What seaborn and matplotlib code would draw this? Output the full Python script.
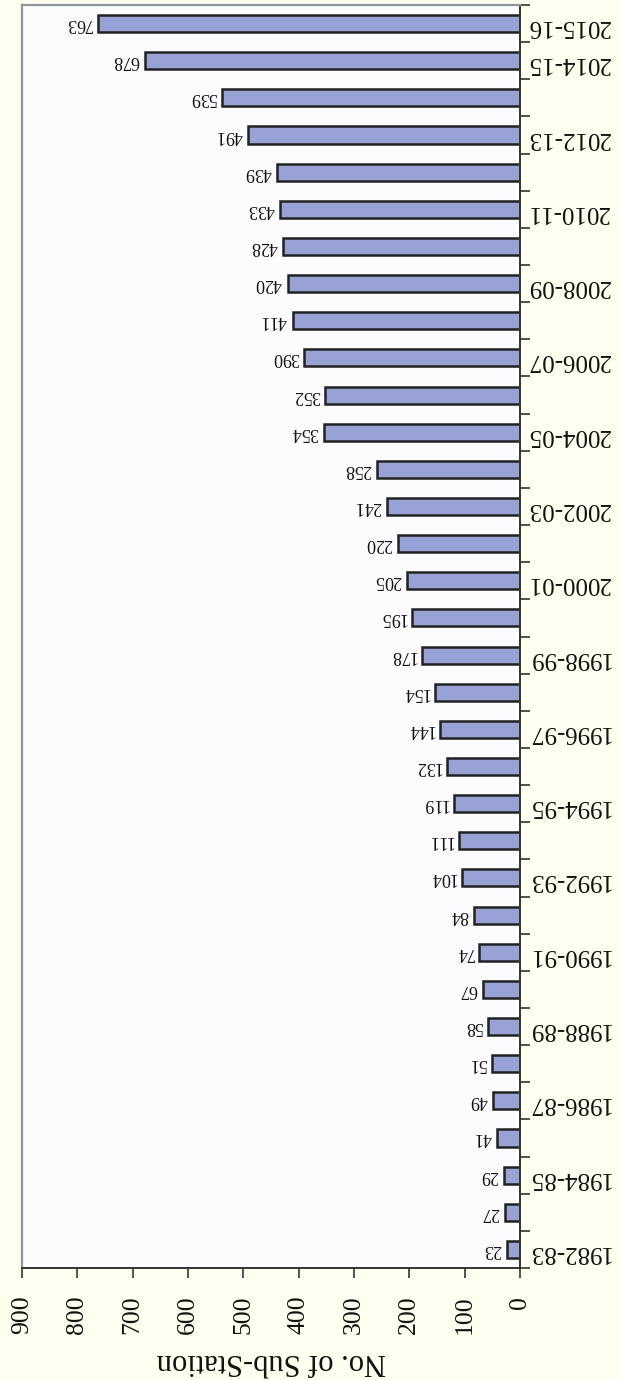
import numpy as np
import matplotlib
matplotlib.use("Agg")
import matplotlib.pyplot as plt
import seaborn as sns
import pandas as pd
from matplotlib.ticker import FixedLocator

sns.set_style("white")
plt.rcParams['font.family'] = ['Liberation Serif', 'DejaVu Serif']

# data
years = [f"{y}-{str(y + 1)[-2:]}" for y in range(1982, 2016)]
stations = [23, 27, 29, 41, 49, 51, 58, 67, 74, 84, 104, 111, 119, 132, 144, 154,
            178, 195, 205, 220, 241, 258, 354, 352, 390, 411, 420, 428, 433, 439,
            491, 539, 678, 763]
shown_labels = years[0::2] + [years[-1]]

df = pd.DataFrame({"year": years, "stations": stations})

fig = plt.figure(figsize=(6.21, 13.80), dpi=100, facecolor='#FFFFF0')
ax = fig.add_axes([22 / 621, 1 - 1268 / 1380, (520 - 22) / 621, (1268 - 5) / 1380])
ax.set_facecolor('#FCFCFF')

order = years[::-1]  # newest at top
sns.barplot(data=df, y="year", x="stations", order=order, orient="h",
            color='#98A2D4', saturation=1, width=0.46,
            edgecolor='#222222', linewidth=1.8, ax=ax)

ax.set_xlim(900, 0)
ax.set_ylim(len(years) - 0.5, -0.5)

# value labels
for yr, v in zip(years, stations):
    pos = order.index(yr)
    ax.annotate(str(v), xy=(v, pos), xytext=(-4, 0), textcoords='offset points',
                ha='right', va='center', rotation=180, fontsize=13, color='#111111')

# category axis on the right
ax.yaxis.tick_right()
label_pos = [order.index(l) for l in shown_labels]
ax.set_yticks(label_pos)
ax.set_yticklabels(shown_labels, rotation=180, fontsize=18, color='#111111')
ax.yaxis.set_minor_locator(FixedLocator(np.arange(-0.5, len(years), 1)))
ax.tick_params(axis='y', which='major', length=0, pad=5)
ax.tick_params(axis='y', which='minor', length=7, width=1.2, color='#333333', direction='out')
ax.set_ylabel('')

# value axis at the bottom
ax.set_xticks(np.arange(0, 901, 100))
ax.set_xticklabels([str(t) for t in range(0, 901, 100)], rotation=90, fontsize=18.5, color='#111111')
ax.tick_params(axis='x', length=7, width=1.2, color='#333333', direction='out', pad=13, bottom=True)
ax.set_xlabel('No. of Sub-Station', rotation=180, fontsize=22, labelpad=9, color='#111111')

for s in ['left', 'top']:
    ax.spines[s].set_color('#8C969B')
    ax.spines[s].set_linewidth(1.6)
for s in ['right', 'bottom']:
    ax.spines[s].set_color('#333333')
    ax.spines[s].set_linewidth(1.4)

fig.savefig("out.png", dpi=100, facecolor=fig.get_facecolor())
